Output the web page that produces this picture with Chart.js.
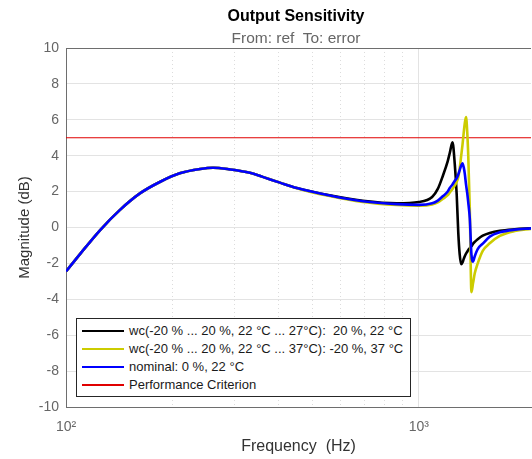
<!DOCTYPE html>
<html>
<head>
<meta charset="utf-8">
<script src="https://cdn.jsdelivr.net/npm/chart.js@4.4.1/dist/chart.umd.min.js"></script>
<style>
  html, body { margin:0; padding:0; background:#fff; overflow:hidden; }
  #wrap { position:relative; width:532px; height:459px; font-family:"Liberation Sans", Arial, sans-serif; }
  #chart { position:absolute; left:0; top:0; }
  .ttl { position:absolute; left:0; width:592px; text-align:center; white-space:pre; }
  #title { top:7px; font-size:16px; line-height:18px; font-weight:bold; color:#000; }
  #subtitle { top:29px; font-size:15.5px; line-height:17px; color:#666; }
  #legend { position:absolute; left:76px; top:318px; width:335px; height:79px; box-sizing:border-box;
            border:1px solid #262626; background:#fff; padding:3px 0 0 5px; }
  .row { height:18px; line-height:18px; font-size:13px; color:#1a1a1a; white-space:pre; display:flex; align-items:center; }
  .sw { display:inline-block; width:42px; height:1.6px; margin-right:5px; }
</style>
</head>
<body>
<div id="wrap">
  <canvas id="chart" width="532" height="459"></canvas>
  <div id="title" class="ttl">Output Sensitivity</div>
  <div id="subtitle" class="ttl">From: ref  To: error</div>
  <div id="legend"></div>
</div>
<script>
// ---- data ----
const freqHz = [100, 110, 125, 142, 162, 185, 210, 240, 261, 291, 332, 361, 404, 451, 559, 694, 866, 1000,
  1091, 1132, 1171, 1208, 1224, 1246, 1265, 1281, 1294, 1306, 1319, 1330, 1341, 1350, 1361, 1372, 1381,
  1395, 1410, 1425, 1441, 1469, 1518, 1589, 1697, 1871, 2080];
const wc27 = [-2.45, -1.44, -0.14, 0.97, 1.90, 2.55, 3.02, 3.26, 3.33, 3.24, 3.05, 2.82, 2.50, 2.20, 1.79, 1.49, 1.35, 1.42,
  1.70, 2.15, 2.90, 3.70, 4.15, 4.75, 3.50, 1.80, -0.30, -1.50, -2.05, -1.95, -1.75, -1.60, -1.45, -1.35, -1.25,
  -1.15, -1.05, -0.90, -0.80, -0.65, -0.45, -0.30, -0.18, -0.10, -0.05];
const wc37 = [-2.45, -1.44, -0.14, 0.97, 1.90, 2.55, 3.02, 3.26, 3.33, 3.24, 3.05, 2.82, 2.50, 2.19, 1.75, 1.42, 1.25, 1.21,
  1.28, 1.40, 1.60, 1.80, 1.95, 2.15, 2.35, 2.55, 2.80, 3.30, 4.00, 4.60, 5.30, 5.80, 6.15, 5.30, 4.00,
  1.00, -3.60, -3.10, -2.55, -2.00, -1.30, -0.88, -0.47, -0.20, -0.08];
const nominal = [-2.45, -1.44, -0.14, 0.97, 1.90, 2.55, 3.02, 3.26, 3.33, 3.24, 3.05, 2.82, 2.50, 2.20, 1.78, 1.46, 1.30, 1.26,
  1.35, 1.50, 1.75, 2.00, 2.20, 2.40, 2.60, 2.75, 2.95, 3.20, 3.45, 3.58, 3.35, 3.00, 2.40, 1.90, 1.40,
  0.50, -1.50, -1.90, -1.60, -1.20, -0.90, -0.51, -0.27, -0.12, -0.05];
const criterionDb = 5;
const seriesLabels = [
  'wc(-20 % ... 20 %, 22 °C ... 27°C):  20 %, 22 °C',
  'wc(-20 % ... 20 %, 22 °C ... 37°C): -20 %, 37 °C',
  'nominal: 0 %, 22 °C',
  'Performance Criterion'
];
const seriesColors = ['#000000', 'rgb(204,204,0)', '#0000ff', '#e00000'];
const yTicks = [-10, -8, -6, -4, -2, 0, 2, 4, 6, 8, 10];
const xGridTicks = [100, 200, 300, 400, 500, 600, 700, 800, 900, 1000];
const xLabelled = { 100: '10²', 1000: '10³' };
const xRange = [100, 2080];

// ---- build ----
const FONT = '"Liberation Sans", Arial, sans-serif';
const pts = arr => freqHz.map((f, i) => ({ x: f, y: arr[i] }));
const lineDs = (i, arr, order, width) => ({
  label: seriesLabels[i], data: arr, borderColor: seriesColors[i], backgroundColor: seriesColors[i],
  borderWidth: width, pointRadius: 0, fill: false, cubicInterpolationMode: 'monotone', order: order
});

const boxPlugin = {
  id: 'box',
  afterDraw(chart) {
    const { ctx, chartArea: a } = chart;
    ctx.save();
    ctx.strokeStyle = '#6e6e6e';
    ctx.lineWidth = 1;
    ctx.beginPath();
    ctx.moveTo(Math.round(a.left), Math.round(a.top) + 0.5);
    ctx.lineTo(Math.round(a.right), Math.round(a.top) + 0.5);
    ctx.stroke();
    ctx.restore();
  }
};

new Chart(document.getElementById('chart'), {
  type: 'line',
  data: {
    datasets: [
      lineDs(0, pts(wc27), 3, 2.6),
      lineDs(1, pts(wc37), 2, 2.6),
      lineDs(2, pts(nominal), 1, 2.6),
      lineDs(3, xRange.map(f => ({ x: f, y: criterionDb })), 4, 1)
    ]
  },
  options: {
    responsive: false,
    animation: false,
    events: [],
    layout: { padding: { left: 0, top: 48, right: 1, bottom: 0 } },
    plugins: { legend: { display: false }, tooltip: { enabled: false }, title: { display: false } },
    scales: {
      x: {
        type: 'logarithmic', min: xRange[0], max: xRange[1],
        afterBuildTicks: s => { s.ticks = xGridTicks.map(v => ({ value: v, major: v in xLabelled })); },
        afterFit: s => { s.height = 52; },
        ticks: {
          autoSkip: false, maxRotation: 0, padding: 12, color: '#666',
          font: { family: FONT, size: 14 },
          callback: v => xLabelled[v] || ''
        },
        grid: {
          drawTicks: false, lineWidth: 1,
          color: c => (c.tick && (c.tick.value in xLabelled)) ? '#e3e3e3' : '#dcdcdc'
        },
        border: {
          color: '#6e6e6e', width: 1,
          dash: c => (c.tick && !(c.tick.value in xLabelled)) ? [1, 3] : []
        },
        title: { display: true, text: 'Frequency  (Hz)', color: '#333', font: { family: FONT, size: 16 }, padding: { top: 0, bottom: 3 } }
      },
      y: {
        min: -10, max: 10,
        afterBuildTicks: s => { s.ticks = yTicks.map(v => ({ value: v })); },
        afterFit: s => { s.width = 66; },
        ticks: { color: '#666', padding: 7, font: { family: FONT, size: 14 } },
        grid: { drawTicks: false, color: '#e3e3e3', lineWidth: 1 },
        border: { color: '#6e6e6e', width: 1 },
        title: { display: true, text: 'Magnitude (dB)', color: '#333', font: { family: FONT, size: 15 }, padding: { top: 16, bottom: 0 } }
      }
    }
  },
  plugins: [boxPlugin]
});

// HTML legend from the series labels/colours
const lg = document.getElementById('legend');
seriesLabels.forEach((t, i) => {
  const r = document.createElement('div');
  r.className = 'row';
  const sw = document.createElement('span');
  sw.className = 'sw';
  sw.style.background = seriesColors[i];
  r.appendChild(sw);
  r.appendChild(document.createTextNode(t));
  lg.appendChild(r);
});
</script>
</body>
</html>
